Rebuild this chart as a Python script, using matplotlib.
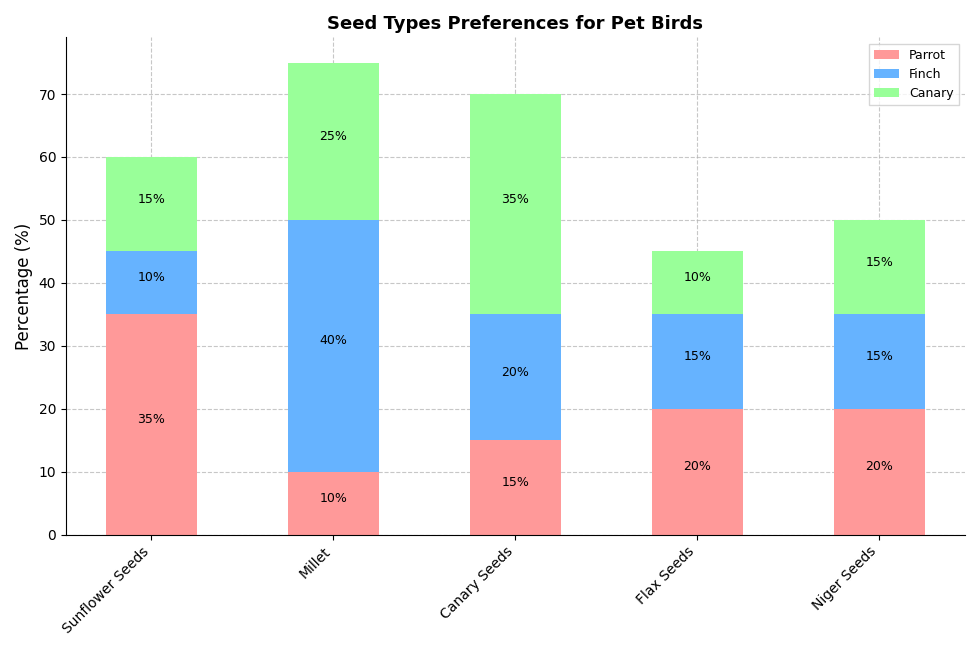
import numpy as np
import matplotlib.pyplot as plt

categories = ["Sunflower Seeds", "Millet", "Canary Seeds", "Flax Seeds", "Niger Seeds"]
parrot = [35, 10, 15, 20, 20]
finch = [10, 40, 20, 15, 15]
canary = [15, 25, 35, 10, 15]

fig, ax = plt.subplots(figsize=(9.8, 6.51), dpi=100)
x = np.arange(len(categories))
w = 0.5
colors = ["#ff9999", "#66b3ff", "#99ff99"]
bottom = np.zeros(len(categories))
for vals, name, c in zip([parrot, finch, canary], ["Parrot", "Finch", "Canary"], colors):
    ax.bar(x, vals, w, bottom=bottom, color=c, label=name)
    for xi, b, v in zip(x, bottom, vals):
        ax.text(xi, b + v / 2 + 0.8, f"{v}%", ha="center", va="center", fontsize=9)
    bottom += np.array(vals)

ax.set_xticks(x)
ax.set_xticklabels(categories, rotation=45, ha="right", fontsize=10)
ax.set_xlim(-0.47, 4.47)
ax.set_ylabel("Percentage (%)", fontsize=12)
ax.set_title("Seed Types Preferences for Pet Birds", fontsize=13, fontweight="bold")
ax.set_ylim(0, 79)
ax.grid(True, linestyle="--", alpha=0.7)
ax.set_axisbelow(True)
ax.spines["top"].set_visible(False)
ax.spines["right"].set_visible(False)
ax.legend(fontsize=9, fancybox=False)
plt.tight_layout()
plt.savefig("out.png")
